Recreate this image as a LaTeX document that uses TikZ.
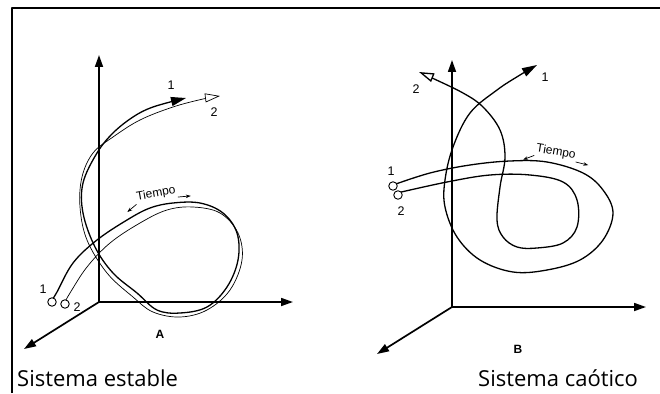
\documentclass[tikz,border=0pt]{standalone}
\usepackage{fontspec}
\setmainfont{Liberation Sans}
\newfontfamily\captionfont{Open Sans}
\usetikzlibrary{arrows.meta}
\newcommand{\timemark}[3]{% position, rotation, name
  \node[font=\fontsize{12}{12}\selectfont,inner sep=1pt,rotate=#2] (#3) at (#1) {Tiempo};
  \draw[line width=0.7pt,-{Stealth[length=5pt,width=3.5pt]}] (#3.south west) -- ++(#2+210:12pt);
  \draw[line width=0.7pt,-{Stealth[length=5pt,width=3.5pt]}] (#3.south east) -- ++(#2-5:13pt);}

\begin{document}
\begin{tikzpicture}[x=1pt,y=-1pt,line join=round,
  axis/.style={line width=1.7pt,-{Triangle[length=12pt,width=8pt]}},
  orbit/.style={line width=1.3pt},
  thinorbit/.style={line width=0.7pt},
  fullhead/.style={-{Triangle[length=15pt,width=9pt]}},
  openhead/.style={-{Triangle[open,length=15pt,width=9pt,fill=white]}},
  startpt/.style={draw,circle,fill=white,inner sep=0pt,minimum size=8.5pt,line width=0.9pt},
  lbl/.style={font=\fontsize{12.5}{12.5}\selectfont,inner sep=0pt}]
  \useasboundingbox (0,0) rectangle (660,393);
  \draw[line width=1.5pt] (12,393) -- (12,8) -- (660,8);
  % axes of both panels
  \foreach \ox/\oy/\name in {99/302/A,452/307/B} {
    \coordinate (o\name) at (\ox,\oy);
    \draw[axis] (o\name) -- ++(0,-247);
    \draw[axis] (o\name) -- ++(194,0);
    \draw[axis] (o\name) -- ++(-75,47);
  }
  \node[lbl,font=\bfseries\fontsize{12}{12}\selectfont] (labA) at (160,334) {A};
  \node[lbl,font=\bfseries\fontsize{12}{12}\selectfont] (labB) at (518,349) {B};
  % stable system
  \draw[orbit,fullhead] plot[smooth,tension=0.6] coordinates {
    (52,300) (57,292) (73,263) (97,240) (127,220) (150,208) (173,203)
    (200,203) (223,213) (237,233) (238,260) (227,287) (207,307) (180,313)
    (157,310) (137,293) (113,273) (95,247) (83,213) (83,183) (97,153)
    (113,133) (133,117) (153,107) (186,98)};
  \draw[thinorbit,openhead] plot[smooth,tension=0.6] coordinates {
    (65,302) (70,293) (87,267) (110,243) (140,223) (167,210) (193,207)
    (220,213) (238,233) (242,260) (230,290) (207,310) (180,317) (153,312)
    (133,297) (107,273) (87,240) (80,207) (82,177) (93,153) (113,137)
    (140,120) (173,107) (203,99) (220,96)};
  \node[startpt] (s1A) at (52,302) {};
  \node[startpt] (s2A) at (65,304) {};
  \node[lbl] at (43,289) {1};
  \node[lbl] at (77,307) {2};
  \node[lbl] at (171,85) {1};
  \node[lbl] at (214,112) {2};
  \timemark{156,194}{10}{tA}
  % chaotic system
  \draw[orbit,fullhead] plot[smooth,tension=0.6] coordinates {
    (393,185) (430,173) (470,165) (510,161) (547,162) (583,173) (603,190)
    (613,213) (603,240) (580,260) (547,270) (513,272) (480,260) (457,237)
    (445,207) (445,180) (453,147) (470,113) (497,90) (520,75) (537,65)};
  \draw[orbit,openhead] plot[smooth,tension=0.6] coordinates {
    (397,193) (447,182) (490,175) (530,175) (563,182) (577,200) (577,227)
    (563,243) (537,248) (517,247) (503,237) (497,220) (500,187) (505,157)
    (500,130) (483,107) (463,93) (430,77) (419,72)};
  \node[startpt] (s1B) at (393,186) {};
  \node[startpt] (s2B) at (398,195) {};
  \node[lbl] at (391,171) {1};
  \node[lbl] at (401,211) {2};
  \node[lbl] at (545,77) {1};
  \node[lbl] at (416,89) {2};
  \timemark{556,152}{-9}{tB}
  % captions
  \node[font=\captionfont\fontsize{22}{22}\selectfont,anchor=base west,inner sep=0pt]
    (capA) at (17,386) {Sistema estable};
  \node[font=\captionfont\fontsize{22}{22}\selectfont,anchor=base west,inner sep=0pt]
    (capB) at (478,386) {Sistema caótico};
\end{tikzpicture}
\end{document}
